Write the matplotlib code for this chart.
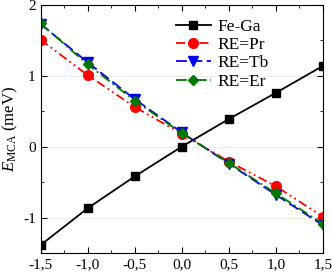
import matplotlib
matplotlib.use("Agg")
import matplotlib.pyplot as plt
from matplotlib.ticker import FuncFormatter, MultipleLocator

plt.rcParams['font.family'] = ['Liberation Serif', 'DejaVu Serif']
plt.rcParams['mathtext.fontset'] = 'custom'
plt.rcParams['mathtext.rm'] = 'Liberation Serif'
plt.rcParams['mathtext.it'] = 'Liberation Serif:italic'

x = [-1.5, -1.0, -0.5, 0.0, 0.5, 1.0, 1.5]
fe_ga = [-1.39, -0.87, -0.42, 0.0, 0.39, 0.76, 1.14]
re_pr = [1.51, 1.01, 0.56, 0.18, -0.21, -0.56, -0.99]
re_tb = [1.73, 1.19, 0.67, 0.20, -0.24, -0.68, -1.11]
re_er = [1.74, 1.16, 0.65, 0.19, -0.23, -0.66, -1.09]
labels = ['Fe-Ga', 'RE=Pr', 'RE=Tb', 'RE=Er']

fig = plt.figure(figsize=(3.32, 2.72), dpi=100)
ax = fig.add_axes([0.122, 0.07, 0.851, 0.912])

ax.plot(x, fe_ga, color='black', marker='s', ms=6, lw=1.3, label=labels[0])
ax.plot(x, re_pr, color='red', marker='o', ms=7, lw=1.3, ls=(0, (5, 2, 1, 2, 1, 2)), label=labels[1])
ax.plot(x, re_tb, color='#0000ee', marker='v', ms=7, lw=1.3, ls=(0, (6, 2.5)), label=labels[2])
ax.plot(x, re_er, color='#007700', marker='D', ms=5, lw=1.3, ls=(0, (6, 2, 1, 2)), label=labels[3])

ax.set_xlim(-1.5, 1.5)
ax.set_ylim(-1.5, 2)
ax.xaxis.set_major_locator(MultipleLocator(0.5))
ax.xaxis.set_minor_locator(MultipleLocator(0.25))
ax.yaxis.set_major_locator(MultipleLocator(1))
ax.yaxis.set_minor_locator(MultipleLocator(0.5))
ax.xaxis.set_major_formatter(FuncFormatter(lambda v, p: f"{v:.1f}".replace('.', ',')))
ax.yaxis.set_major_formatter(FuncFormatter(lambda v, p: f"{v:.0f}"))
ax.tick_params(which='both', direction='in', top=True, right=True, labelsize=11)
ax.tick_params(which='major', length=4)
ax.tick_params(which='minor', length=2)
ax.grid(axis='y', which='major', color='#e6e6e6', lw=0.6)
ax.set_axisbelow(True)

ax.set_ylabel(r'$E_{\mathrm{MCA}}$ (meV)', fontsize=12, labelpad=2)

leg = ax.legend(loc='upper left', bbox_to_anchor=(0.43, 1.0), frameon=False, fontsize=12.5,
                handlelength=2.0, labelspacing=0.12, handletextpad=0.4, borderaxespad=0.4)

fig.savefig('out.png', dpi=100)
